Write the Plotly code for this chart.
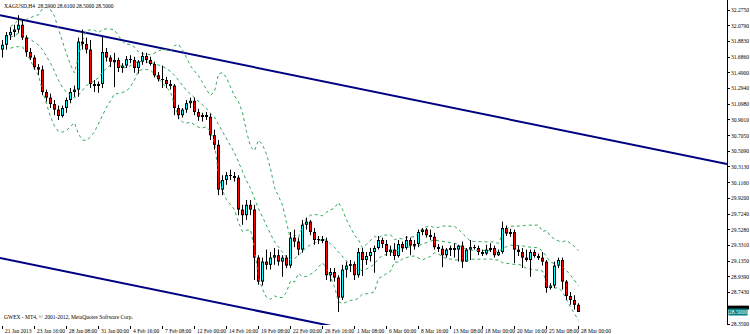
import plotly.graph_objects as go
import pandas as pd

symbol = "XAGUSD,H4"
copyright_text = "GWEX - MT4, \u00a9 2001-2012, MetaQuotes Software Corp."

opens = [31.78,31.84,31.96,32.00,32.03,32.09,31.93,31.75,31.68,31.56,
         31.53,31.25,31.18,31.10,31.03,30.95,31.05,31.15,31.25,31.28,
         31.88,31.85,31.78,31.35,31.33,31.35,31.75,31.68,31.63,31.65,
         31.55,31.58,31.66,31.65,31.55,31.63,31.70,31.65,31.60,31.46,
         31.41,31.40,31.35,31.33,31.05,30.96,31.03,31.11,31.14,31.00,
         30.94,30.95,30.94,30.71,30.59,30.03,30.15,30.21,30.20,30.18,
         29.78,29.71,29.84,29.78,29.18,28.88,29.13,29.09,29.18,29.21,
         29.13,29.18,29.08,29.43,29.38,29.28,29.59,29.63,29.50,29.40,
         29.41,29.39,28.96,29.00,28.93,28.68,29.03,29.08,29.10,28.96,
         29.25,29.15,29.20,29.25,29.30,29.40,29.35,29.25,29.28,29.20,
         29.35,29.30,29.40,29.33,29.35,29.50,29.53,29.46,29.44,29.31,
         29.29,29.21,29.28,29.30,29.28,29.33,29.13,29.28,29.31,29.30,
         29.25,29.23,29.28,29.30,29.21,29.25,29.55,29.48,29.50,29.28,
         29.25,29.18,29.15,29.25,29.20,29.18,29.13,28.80,28.83,29.08,
         29.15,28.88,28.70,28.65,28.59]
highs = [31.90,32.00,32.06,32.09,32.21,32.15,31.96,31.80,31.71,31.60,
         31.58,31.28,31.23,31.15,31.08,31.08,31.18,31.30,31.33,31.93,
         32.03,31.93,31.90,31.40,31.38,31.94,31.80,31.71,31.74,31.68,
         31.61,31.70,31.71,31.69,31.65,31.75,31.74,31.69,31.63,31.50,
         31.58,31.44,31.40,31.35,31.09,31.05,31.15,31.18,31.18,31.04,
         30.99,31.00,30.98,30.78,30.65,30.21,30.25,30.28,30.25,30.21,
         29.84,29.90,29.90,29.84,29.21,29.18,29.28,29.25,29.30,29.28,
         29.21,29.21,29.50,29.53,29.43,29.65,29.68,29.65,29.55,29.45,
         29.45,29.43,29.05,29.05,28.96,29.09,29.13,29.15,29.13,29.30,
         29.30,29.25,29.30,29.33,29.45,29.43,29.40,29.33,29.36,29.40,
         29.38,29.45,29.43,29.40,29.53,29.55,29.55,29.53,29.49,29.35,
         29.33,29.30,29.33,29.36,29.34,29.38,29.30,29.40,29.34,29.33,
         29.28,29.34,29.36,29.33,29.28,29.63,29.58,29.54,29.53,29.33,
         29.30,29.28,29.28,29.28,29.23,29.25,29.15,28.86,29.13,29.18,
         29.18,28.90,28.75,28.71,28.61]
lows = [31.68,31.78,31.90,31.94,31.99,31.90,31.69,31.65,31.53,31.46,
        31.21,31.13,31.05,30.96,30.90,30.93,30.99,31.11,31.19,31.19,
        31.78,31.73,31.30,31.25,31.24,31.30,31.63,31.56,31.31,31.50,
        31.49,31.55,31.61,31.49,31.48,31.59,31.61,31.58,31.43,31.38,
        31.30,31.30,31.28,30.96,30.91,30.93,30.99,31.05,30.96,30.89,
        30.88,30.90,30.65,30.53,29.96,29.96,30.09,30.15,30.13,29.71,
        29.59,29.65,29.71,28.90,28.84,28.83,29.03,29.03,29.09,29.08,
        28.94,29.05,29.05,29.31,29.21,29.24,29.53,29.46,29.34,29.35,
        29.36,28.90,28.88,28.88,28.50,28.65,28.93,29.00,28.90,28.93,
        28.95,29.09,29.13,28.99,29.28,29.30,29.20,29.20,29.15,29.18,
        29.25,29.28,29.21,29.28,29.31,29.46,29.43,29.40,29.28,29.25,
        29.06,29.18,29.20,29.18,29.13,29.05,29.13,29.15,29.28,29.21,
        29.20,29.21,29.25,29.18,29.20,29.23,29.45,29.44,29.11,29.20,
        29.05,29.13,28.94,29.18,29.15,29.08,28.74,28.78,28.80,29.05,
        28.78,28.65,28.59,28.53,28.50]
closes = [31.84,31.96,32.00,32.03,32.09,31.93,31.75,31.68,31.56,31.53,
          31.25,31.18,31.10,31.03,30.95,31.05,31.15,31.25,31.28,31.88,
          31.85,31.78,31.35,31.33,31.35,31.75,31.68,31.63,31.65,31.55,
          31.58,31.66,31.65,31.55,31.63,31.70,31.65,31.60,31.46,31.41,
          31.40,31.35,31.33,31.05,30.96,31.03,31.11,31.14,31.00,30.94,
          30.95,30.94,30.71,30.59,30.03,30.15,30.21,30.20,30.18,29.78,
          29.71,29.84,29.78,29.18,28.88,29.13,29.09,29.18,29.21,29.13,
          29.18,29.08,29.43,29.38,29.28,29.59,29.63,29.50,29.40,29.41,
          29.39,28.96,29.00,28.93,28.68,29.03,29.08,29.10,28.96,29.25,
          29.15,29.20,29.25,29.30,29.40,29.35,29.25,29.28,29.20,29.35,
          29.30,29.40,29.33,29.35,29.50,29.53,29.46,29.44,29.31,29.29,
          29.21,29.28,29.30,29.28,29.33,29.13,29.28,29.31,29.30,29.25,
          29.23,29.28,29.30,29.21,29.25,29.55,29.48,29.50,29.28,29.25,
          29.18,29.15,29.25,29.20,29.18,29.13,28.80,28.83,29.08,29.15,
          28.88,28.70,28.65,28.59,28.50]

bid_price = 28.50
ask_price = 28.54

price_ticks = [32.2750, 32.0790, 31.8830, 31.6860, 31.4900, 31.2940, 31.0980,
               30.9010, 30.7050, 30.5090, 30.3130, 30.1160, 29.9200, 29.7240,
               29.5280, 29.3310, 29.1350, 28.9390, 28.7430, 28.3500]

time_labels = ["21 Jan 2013", "23 Jan 16:00", "28 Jan 08:00", "31 Jan 00:00",
               "4 Feb 16:00", "7 Feb 08:00", "12 Feb 00:00", "14 Feb 16:00",
               "19 Feb 08:00", "22 Feb 00:00", "26 Feb 16:00", "1 Mar 08:00",
               "6 Mar 00:00", "8 Mar 16:00", "13 Mar 08:00", "18 Mar 00:00",
               "20 Mar 16:00", "25 Mar 08:00", "28 Mar 00:00"]
time_label_bars = [0, 8, 16, 24, 32, 40, 48, 56, 64, 72, 80, 88, 96, 104,
                   112, 120, 128, 136, 144]

# trend channel anchors (bar index, price)
upper_trend_x = [-0.625, 181.125]
upper_trend_y = [32.21, 30.35]
lower_trend_x = [-0.625, 181.125]
lower_trend_y = [29.175, 27.31]

bb_period = 10
bb_dev = 2.0

# ---------------------------------------------------------------
n = len(closes)
idx = list(range(n))
cl = pd.Series(closes)
mid = cl.rolling(bb_period, min_periods=3).mean()
sd = cl.rolling(bb_period, min_periods=3).std(ddof=0)
upper = mid + bb_dev * sd
lower = mid - bb_dev * sd

FONT = "Liberation Sans Narrow"
FS = 5.5
Y_TOP = 32.40
Y_BOT = 28.3375
X_RANGE = [-0.625, 181.125]

fig = go.Figure()

# trend lines
fig.add_trace(go.Scatter(x=upper_trend_x, y=upper_trend_y, mode="lines",
                         line=dict(color="#000080", width=2), hoverinfo="skip"))
fig.add_trace(go.Scatter(x=lower_trend_x, y=lower_trend_y, mode="lines",
                         line=dict(color="#000080", width=2), hoverinfo="skip"))

# bid / ask lines
fig.add_hline(y=ask_price, line=dict(color="#C0C0C0", width=1))
fig.add_hline(y=bid_price, line=dict(color="#008080", width=1))

# Bollinger bands
for s in (upper, mid, lower):
    fig.add_trace(go.Scatter(x=idx, y=s, mode="lines",
                             line=dict(color="#2EAA5C", width=1, dash="dot"),
                             hoverinfo="skip"))

# wicks
wx, wy = [], []
for i in idx:
    wx += [i, i, None]
    wy += [lows[i], highs[i], None]
fig.add_trace(go.Scatter(x=wx, y=wy, mode="lines",
                         line=dict(color="black", width=1), hoverinfo="skip"))

# bodies: black outline block with coloured 1px fill
base = [min(o, c) for o, c in zip(opens, closes)]
height = [max(abs(c - o), 0.012) for o, c in zip(opens, closes)]
fig.add_trace(go.Bar(x=idx, y=height, base=base, width=0.75,
                     marker=dict(color="black", line=dict(width=0)),
                     hoverinfo="skip"))
px_unit = (Y_TOP - Y_BOT) / 325.0
for col, cond in (("#00FFFF", lambda o, c: c > o), ("#FF0000", lambda o, c: c < o)):
    fx, fy = [], []
    for i in idx:
        o, c = opens[i], closes[i]
        lo, hi = min(o, c) + px_unit, max(o, c) - px_unit
        if cond(o, c) and hi > lo:
            fx += [i, i, None]
            fy += [lo, hi, None]
    fig.add_trace(go.Scatter(x=fx, y=fy, mode="lines",
                             line=dict(color=col, width=1), hoverinfo="skip"))

annotations = []
annotations.append(dict(
    xref="paper", yref="paper", x=0, y=1, xanchor="left", yanchor="top",
    xshift=2, yshift=-1, showarrow=False,
    text=f"{symbol}  {opens[-1]:.4f} {highs[-1]:.4f} {lows[-1]:.4f} {closes[-1]:.4f}",
    font=dict(family=FONT, size=FS, color="black")))
annotations.append(dict(
    xref="paper", yref="paper", x=0, y=0, xanchor="left", yanchor="bottom",
    xshift=2, yshift=3, showarrow=False, text=copyright_text,
    font=dict(family=FONT, size=FS, color="black")))
for b, t in zip(time_label_bars, time_labels):
    annotations.append(dict(
        xref="x", yref="paper", x=b, y=0, xanchor="left", yanchor="top",
        xshift=0, yshift=-1, showarrow=False, text=t,
        font=dict(family=FONT, size=FS, color="black")))
annotations.append(dict(
    xref="paper", yref="y", x=1, y=bid_price, xanchor="left", yanchor="middle",
    xshift=1, showarrow=False, text=f"{bid_price:.4f}", bgcolor="#008080",
    borderpad=0, font=dict(family=FONT, size=FS, color="white")))

shapes = [dict(type="rect", xref="paper", yref="y", x0=1.0014, x1=1.03,
               y0=ask_price - 0.5 * px_unit, y1=ask_price + 3 * px_unit,
               fillcolor="black", line=dict(width=0), layer="above")]

fig.update_layout(
    width=750, height=334,
    margin=dict(l=0, r=23, t=0, b=9),
    paper_bgcolor="white", plot_bgcolor="white",
    showlegend=False, barmode="overlay",
    annotations=annotations, shapes=shapes,
    xaxis=dict(range=X_RANGE, showgrid=False, zeroline=False,
               tickvals=time_label_bars, ticks="outside", ticklen=3,
               tickcolor="black", showticklabels=False, showline=False,
               fixedrange=True),
    yaxis=dict(range=[Y_BOT, Y_TOP], side="right", showgrid=False,
               zeroline=False, showline=True, linecolor="black", linewidth=1,
               tickvals=price_ticks, ticktext=[f"{v:.4f}" for v in price_ticks],
               ticks="outside", ticklen=2, tickcolor="black",
               tickfont=dict(family=FONT, size=FS, color="black"),
               fixedrange=True),
)

fig.write_html("out.html")
